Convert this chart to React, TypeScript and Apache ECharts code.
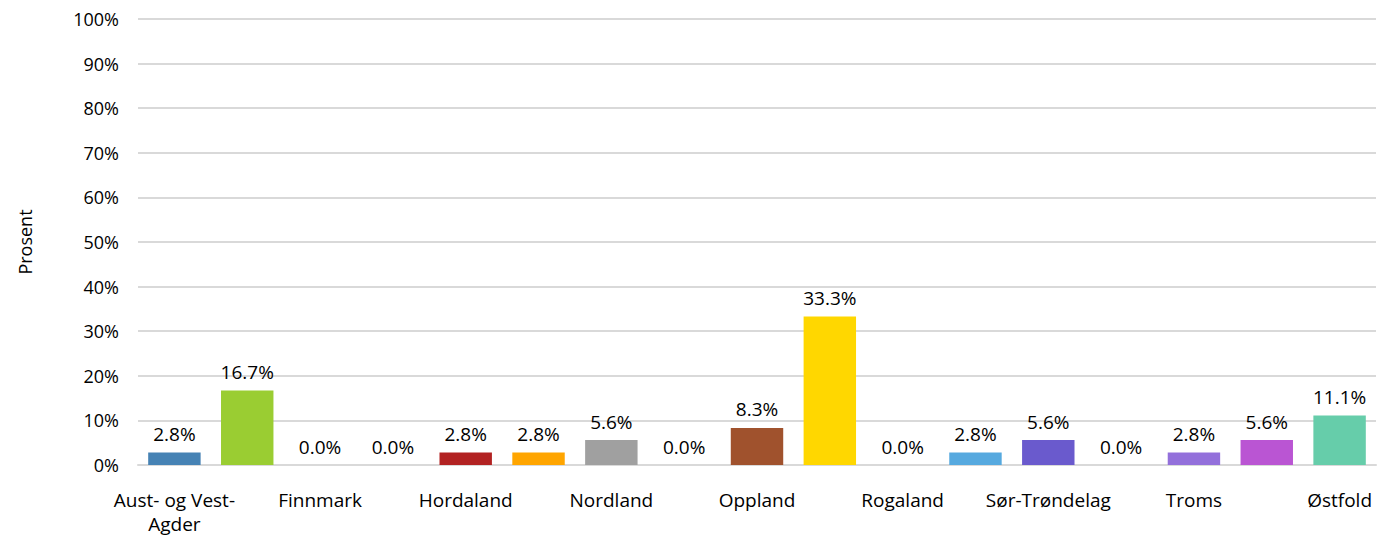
import React, { useEffect, useRef } from "react";
import * as echarts from "echarts";

const categories = [
  "Aust- og Vest-Agder", "Buskerud", "Finnmark", "Hedmark", "Hordaland",
  "Møre og Romsdal", "Nordland", "Nord-Trøndelag", "Oppland", "Oslo",
  "Rogaland", "Sogn og Fjordane", "Sør-Trøndelag", "Telemark", "Troms",
  "Vestfold", "Østfold",
];
const values = [2.8, 16.7, 0.0, 0.0, 2.8, 2.8, 5.6, 0.0, 8.3, 33.3, 0.0, 2.8, 5.6, 0.0, 2.8, 5.6, 11.1];
const colors = [
  "#4682B4", "#9ACD32", "#DC143C", "#8FBC8F", "#B22222", "#FFA500", "#A0A0A0", "#20B2AA",
  "#A0522D", "#FFD700", "#4169E1", "#56A9DF", "#6A5ACD", "#2E8B57", "#9370DB", "#BA55D3", "#66CDAA",
];
const yTicks = [0, 10, 20, 30, 40, 50, 60, 70, 80, 90, 100];

const FONT = "'Open Sans', sans-serif";
const FS = 19;

export default function App() {
  const ref = useRef<HTMLDivElement>(null);
  useEffect(() => {
    if (!ref.current) return;
    const chart = echarts.init(ref.current, null, { renderer: "svg" });
    chart.setOption({
      animation: false,
      grid: { left: 125, right: 5, top: 11, bottom: 67 },
      xAxis: {
        type: "category",
        data: categories,
        axisLine: { show: true, lineStyle: { color: "#d9d9d9", width: 2 } },
        axisTick: { show: false },
        axisLabel: {
          interval: 1,
          margin: 23,
          color: "#000",
          fontSize: FS,
          fontFamily: FONT,
          lineHeight: 24,
          formatter: (v: string) => v.replace("Vest-Agder", "Vest-\nAgder"),
        },
      },
      yAxis: {
        type: "value",
        min: yTicks[0],
        max: yTicks[yTicks.length - 1],
        interval: 10,
        name: "Prosent",
        nameLocation: "middle",
        nameGap: 104,
        nameRotate: 90,
        nameTextStyle: { color: "#000", fontSize: FS - 1, fontFamily: FONT },
        axisLine: { show: false },
        axisTick: { show: false },
        axisLabel: {
          color: "#000",
          fontSize: FS - 1,
          lineHeight: 19,
          fontFamily: FONT,
          margin: 19,
          formatter: (v: number) => v + "%",
        },
        splitLine: { lineStyle: { color: "#d9d9d9", width: 2 } },
      },
      series: [
        {
          type: "bar",
          data: values.map((v, i) => ({ value: v, itemStyle: { color: colors[i] } })),
          barWidth: "72%",
          label: {
            show: true,
            position: "top",
            distance: 9,
            color: "#000",
            fontSize: FS,
            fontFamily: FONT,
            formatter: (p: any) => p.value.toFixed(1) + "%",
          },
        },
      ],
    });
    return () => chart.dispose();
  }, []);
  return <div ref={ref} style={{ width: 1373, height: 528 }} />;
}
